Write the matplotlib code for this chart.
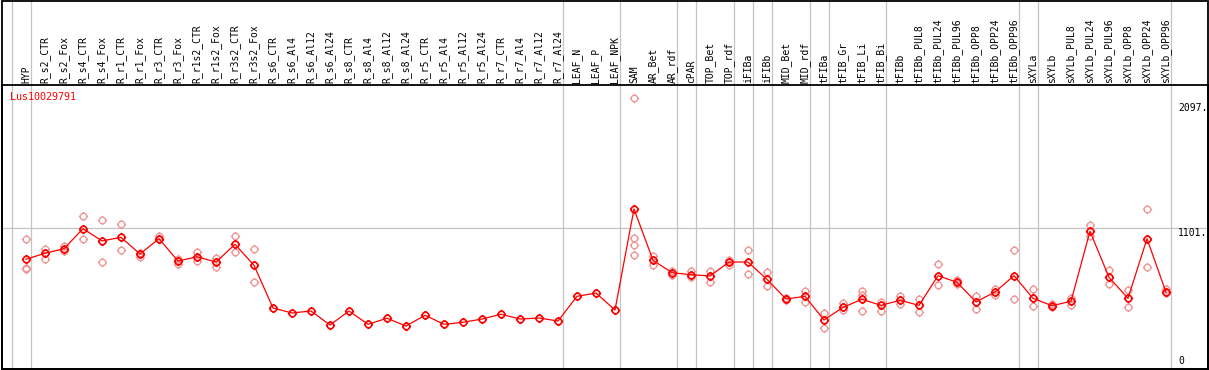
import matplotlib
matplotlib.use("Agg")
import matplotlib.pyplot as plt
import numpy as np
from matplotlib.path import Path
from matplotlib.transforms import blended_transform_factory

# sample names, left to right
labels = ["HYP", "R_s2_CTR", "R_s2_Fox", "R_s4_CTR", "R_s4_Fox", "R_r1_CTR", "R_r1_Fox",
          "R_r3_CTR", "R_r3_Fox", "R_r1s2_CTR", "R_r1s2_Fox", "R_r3s2_CTR", "R_r3s2_Fox",
          "R_s6_CTR", "R_s6_Al4", "R_s6_Al12", "R_s6_Al24", "R_s8_CTR", "R_s8_Al4",
          "R_s8_Al12", "R_s8_Al24", "R_r5_CTR", "R_r5_Al4", "R_r5_Al12", "R_r5_Al24",
          "R_r7_CTR", "R_r7_Al4", "R_r7_Al12", "R_r7_Al24", "LEAF_N", "LEAF_P", "LEAF_NPK",
          "SAM", "AR_Bet", "AR_rdf", "cPAR", "TOP_Bet", "TOP_rdf", "iFIBa", "iFIBb",
          "MID_Bet", "MID_rdf", "tFIBa", "tFIB_Gr", "tFIB_Li", "tFIB_Bi", "tFIBb",
          "tFIBb_PUL8", "tFIBb_PUL24", "tFIBb_PUL96", "tFIBb_OPP8", "tFIBb_OPP24",
          "tFIBb_OPP96", "sXYLa", "sXYLb", "sXYLb_PUL8", "sXYLb_PUL24", "sXYLb_PUL96",
          "sXYLb_OPP8", "sXYLb_OPP24", "sXYLb_OPP96"]

# group sizes (grey separators between groups)
groups = [1, 28, 3, 3, 1, 2, 1, 1, 2, 1, 3, 7, 1, 7]

# mean expression per sample
means = [852, 900, 936, 1096, 998, 1027, 894, 1016, 838, 872, 830, 971, 804,
         464, 424, 440, 328, 440, 334, 382, 320, 406, 334, 350, 376, 414, 376, 384, 360,
         557, 583, 448,
         1253, 844, 745, 729, 719, 830, 830, 692, 535, 557, 368, 469, 533, 485, 525,
         485, 721, 669, 512, 591, 721, 541, 482, 517, 1075, 708, 541, 1016, 589]

# individual replicates
reps = [[1011, 780, 772], [934, 854], [958, 918], [1194, 1011], [1163, 828], [1131, 923],
        [904, 872], [1035, 1011], [854, 817], [910, 836], [865, 790], [1035, 910], [936, 671],
        [], [], [], [], [], [], [], [], [], [], [], [], [], [], [], [],
        [], [], [],
        [2135, 1021, 966, 884], [880, 804], [761, 724], [761, 708], [761, 669], [846, 806],
        [926, 735], [751, 637], [543, 527], [599, 514], [422, 302], [501, 448],
        [597, 567, 442], [512, 442], [562, 496],
        [535, 434], [812, 647], [687, 655], [559, 458], [618, 567], [923, 533],
        [613, 482], [496, 472], [543, 490], [1127, 1037], [764, 657], [607, 474],
        [1250, 788], [613, 581]]

gene = "Lus10029791"
scale_ticks = [2097, 1101]

W, H = 1209, 370
fig = plt.figure(figsize=(W / 100, H / 100), dpi=100)

# plot area in pixels
left, right, top, bottom = 1.5, 1207.5, 85, 368.5
ax = fig.add_axes([left / W, (H - bottom) / H, (right - left) / W, (bottom - top) / H])

x0, dx = 26, 19
ax.set_xlim((left - x0) / dx, (right - x0) / dx)
y0, k = 366.2, 0.1255
ax.set_ylim((y0 - bottom) / k, (y0 - top) / k)
ax.set_xticks([])
ax.set_yticks([])
for s in ax.spines.values():
    s.set_linewidth(1.3)

# outer frame including header
fig.add_artist(plt.Rectangle((left / W, (H - bottom) / H), (right - left) / W, (bottom - 0.6) / H,
                             transform=fig.transFigure, fill=False, lw=1.3, ec="black"))

xs = np.arange(len(labels))
ext = bottom / (bottom - top)

# separators
bounds = np.concatenate([[-1], np.cumsum(groups) - 1])
ax.vlines(bounds + 4.5 / dx, 0, ext, transform=ax.get_xaxis_transform(),
          colors="#c4c4c4", lw=0.9, clip_on=False, zorder=1)
ax.axhline(scale_ticks[1], color="#c4c4c4", lw=0.9, zorder=1)

# circle marker with small ticks
circ = Path.unit_circle()
tk = 1.4
tick_paths = [Path([(0, 1), (0, tk)]), Path([(0, -1), (0, -tk)]),
              Path([(1, 0), (tk, 0)]), Path([(-1, 0), (-tk, 0)])]
marker = Path.make_compound_path(circ, *tick_paths)

rx = [i for i, r in enumerate(reps) for _ in r]
ry = [v for r in reps for v in r]
ax.plot(rx, ry, ls="none", marker=marker, ms=6.6, mfc="none", mec="#f09898", mew=1.0, zorder=2)
ax.plot(xs, means, color="red", lw=0.9, marker=marker, ms=6.6, mfc="none", mec="red",
        mew=1.2, zorder=3)

mono = "DejaVu Sans Mono"
hdr = blended_transform_factory(ax.transData, ax.transAxes)
for i, lab in enumerate(labels):
    ax.text(i, (bottom - 83) / (bottom - top), lab, transform=hdr, rotation=90,
            ha="center", va="bottom", fontsize=7, family=mono, clip_on=False)

ax.text((10 - left) / (right - left), (bottom - 92) / (bottom - top), gene, transform=ax.transAxes,
        color="red", fontsize=7.2, family=mono, ha="left", va="top")

xr = (1178 - x0) / dx
for v in scale_ticks:
    ax.text(xr, v, f"{v}.", fontsize=7, family=mono, ha="left", va="top")
ax.text(xr, 0, "0", fontsize=7, family=mono, ha="left", va="bottom")

fig.savefig("out.png", dpi=100)
